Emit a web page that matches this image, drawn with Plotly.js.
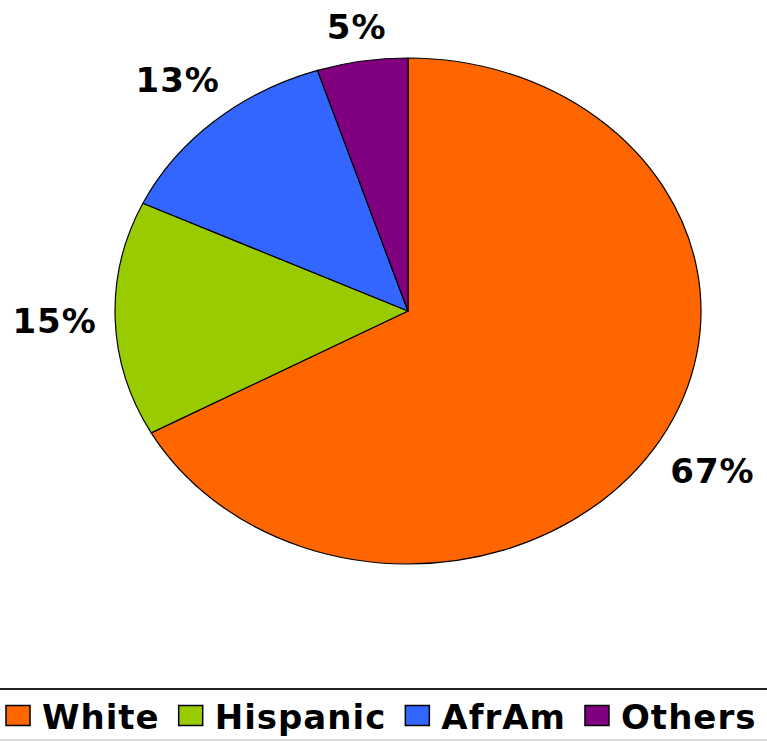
<!DOCTYPE html>
<html><head><meta charset="utf-8">
<script src="https://cdn.plot.ly/plotly-3.0.1.min.js"></script>
<style>
html,body{margin:0;padding:0;background:#fff}
#chart{width:767px;height:742px}
text.legendtext, .slicetext text { letter-spacing: 1px; }
</style>
</head><body><div id="chart"></div>
<script>
const labels = ['White', 'Hispanic', 'AfrAm', 'Others'];
const values = [67, 15, 13, 5];
const colors = ['#FF6600', '#99CC00', '#3366FF', '#800080'];

const W = 767, H = 742;
// ellipse geometry of the reference pie (pixels)
const CX = 408, CY = 311, RX = 293, RY = 253;
const K = RY / RX;
const LABEL_GAP = 18;    // gap between ellipse edge and label box
const GLYPH_HALF = 12.5; // half height of the label digits
const LEGEND_EXTRA_GAP = 8; // extra spacing between legend entries

const trace = {
  type: 'pie',
  labels: labels,
  values: values,
  sort: false,
  direction: 'clockwise',
  rotation: 0,
  marker: { colors: colors, line: { color: '#000000', width: 1.2 } },
  textinfo: 'percent',
  textposition: 'outside',
  outsidetextfont: { family: 'DejaVu Sans', size: 34, color: '#000000', weight: 'bold' },
  textfont: { family: 'DejaVu Sans', size: 34, color: '#000000', weight: 'bold' },
  hoverinfo: 'none',
  domain: { x: [(CX - RX) / W, (CX + RX) / W], y: [1 - (CY + RX) / H, 1 - (CY - RX) / H] }
};

const layout = {
  width: W, height: H,
  margin: { l: 0, r: 0, t: 0, b: 0, autoexpand: false },
  paper_bgcolor: '#ffffff',
  plot_bgcolor: '#ffffff',
  showlegend: true,
  legend: {
    orientation: 'h', x: 0, xanchor: 'left', y: 1 - 716 / H, yanchor: 'middle',
    itemwidth: 32,
    font: { family: 'DejaVu Sans', size: 34, color: '#000000', weight: 'bold' },
    bgcolor: 'rgba(0,0,0,0)', traceorder: 'normal'
  },
  shapes: [
    { type: 'line', xref: 'paper', yref: 'paper', x0: 0, x1: 1, y0: 1 - 689 / H, y1: 1 - 689 / H, line: { color: '#222222', width: 2 } },
    { type: 'line', xref: 'paper', yref: 'paper', x0: 0, x1: 1, y0: 1 - 740 / H, y1: 1 - 740 / H, line: { color: '#cccccc', width: 1.5 } }
  ]
};

Plotly.newPlot('chart', [trace], layout, { staticPlot: true, displayModeBar: false }).then(function (gd) {
  const cd0 = gd.calcdata[0][0];
  const cx = cd0.cx, cy = cd0.cy, r = cd0.r;
  // flatten the pie into the reference ellipse
  gd.querySelectorAll('.pielayer path.surface').forEach(function (p) {
    p.setAttribute('transform', 'translate(0,' + (cy * (1 - K)) + ') scale(1,' + K + ')');
    p.setAttribute('vector-effect', 'non-scaling-stroke');
  });
  gd.querySelectorAll('.pielayer path.textline').forEach(function (p) { p.remove(); });
  // place each percentage label along its slice's mid angle, just outside the ellipse
  const total = values.reduce(function (a, b) { return a + b; }, 0);
  let cum = 0;
  const mids = values.map(function (v) { const m = (cum + v / 2) / total * 2 * Math.PI; cum += v; return m; });
  gd.querySelectorAll('.pielayer g.slice').forEach(function (s, i) {
    const g = s.querySelector('g.slicetext');
    if (!g) return;
    const bb = g.getBBox();
    const bx = bb.x + bb.width / 2, by = bb.y + bb.height / 2;
    const ux = Math.sin(mids[i]), uy = -Math.cos(mids[i]);
    const ex = cx + r * ux, ey = cy + r * K * uy;
    const d = LABEL_GAP + (bb.width / 2) * Math.abs(ux) + GLYPH_HALF * Math.abs(uy);
    const tx = ex + ux * d, ty = ey + uy * d;
    g.setAttribute('transform', 'translate(' + (tx - bx) + ',' + (ty - by) + ')');
  });
  // larger legend swatches and slightly wider entry spacing, like the reference
  gd.querySelectorAll('.legend path.legendpie').forEach(function (p) {
    p.setAttribute('d', 'M9,10H-15V-10H9Z');
    p.style.strokeWidth = '1.5px';
  });
  gd.querySelectorAll('.legend .scrollbox').forEach(function (s) { s.removeAttribute('clip-path'); });
  gd.querySelectorAll('.legend g.traces').forEach(function (t, i) {
    const m = /translate\(\s*([-\d.]+)[ ,]+([-\d.]+)\s*\)/.exec(t.getAttribute('transform') || '');
    if (!m) return;
    const x = parseFloat(m[1]) + i * LEGEND_EXTRA_GAP, y = parseFloat(m[2]);
    t.setAttribute('transform', 'translate(' + x + ',' + y + ')');
  });
});
</script>
</body></html>
